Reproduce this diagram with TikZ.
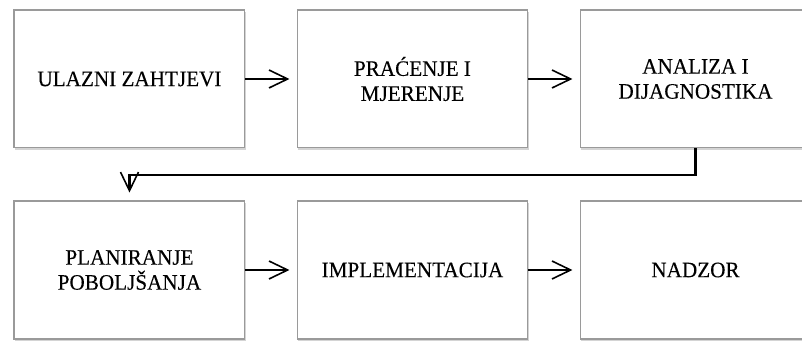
\documentclass[tikz,border=0pt]{standalone}
\usepackage{fontspec}
\setmainfont{Liberation Serif}[FakeStretch=0.96,FakeBold=0.2]
\usepackage{tikz}
\usetikzlibrary{positioning,arrows.meta,shadows,calc}
\definecolor{boxline}{HTML}{9A9A9A}
\definecolor{boxshade}{HTML}{B8B8B8}

\begin{document}
\begin{tikzpicture}[
      font=\fontsize{16.6pt}{18.8pt}\selectfont,
      stage/.style={draw=boxline,line width=0.8pt,fill=white,
                    minimum width=6.11cm,minimum height=3.65cm,align=center,
                    drop shadow={shadow xshift=0.6pt,shadow yshift=-1.6pt,
                                 fill=boxshade,opacity=0.6}},
      arr/.style={-{Straight Barb[length=14pt,width=13.5pt,line width=1.2pt]},
                  line width=1.2pt,black}]
    \useasboundingbox (0,0) rectangle (21.22,-9.022);
    \node[stage] (ulaz) at (3.426,-2.090)  {ULAZNI ZAHTJEVI};
    \node[stage] (prac) at (10.914,-2.090) {PRAĆENJE I\\MJERENJE};
    \node[stage] (diag) at (18.402,-2.090) {ANALIZA I\\DIJAGNOSTIKA};
    \node[stage] (plan) at (3.426,-7.144)  {PLANIRANJE\\POBOLJŠANJA};
    \node[stage] (impl) at (10.914,-7.144) {IMPLEMENTACIJA};
    \node[stage] (nadz) at (18.402,-7.144) {NADZOR};
    \draw[arr,shorten >=5.3pt] (ulaz) -- (prac);
    \draw[arr,shorten >=5.3pt] (prac) -- (diag);
    \draw[arr,line width=1.6pt,shorten >=6pt] (diag.south) -- ++(0,-0.69) -| (plan.north);
    \draw[arr,shorten >=5.3pt] (plan) -- (impl);
    \draw[arr,shorten >=5.3pt] (impl) -- (nadz);
  \end{tikzpicture}
\end{document}
